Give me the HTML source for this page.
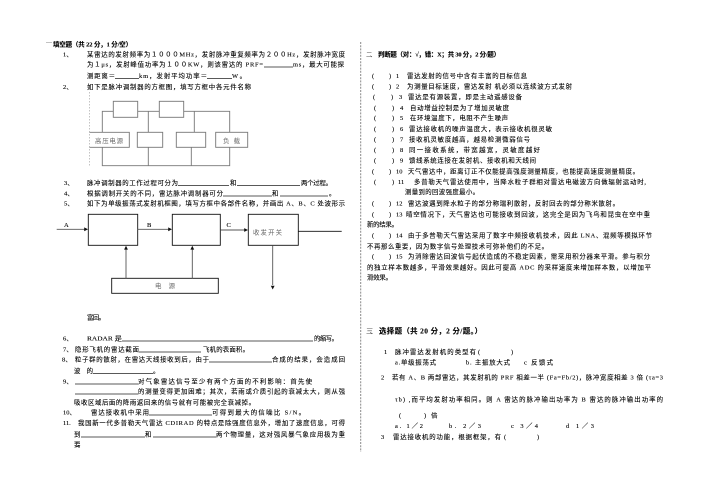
<!DOCTYPE html>
<html lang="zh"><head><meta charset="utf-8"><style>
html,body{margin:0;padding:0;background:#fff;width:702px;height:496px;overflow:hidden}
svg{display:block;position:absolute;left:0;top:0}
text{font-family:"Liberation Serif","Noto Sans CJK SC",sans-serif;font-size:6.4px;fill:#000;stroke:#000;stroke-width:.12;white-space:pre}
.b{font-weight:bold}
.g{fill:#666;stroke:none}
.l{fill:#555;stroke:none}
.u{stroke:#222;stroke-width:.8}
.d{stroke:#777;stroke-width:.9;fill:none}
.k{stroke:#111;stroke-width:.9;fill:none}
.h{stroke:#555;stroke-width:.9;fill:none}
</style></head><body>
<svg width="702" height="496" viewBox="0 0 702 496" xmlns="http://www.w3.org/2000/svg">
<!-- left column -->
<line x1="46" y1="42.5" x2="52" y2="42.5" stroke="#999" stroke-width=".6"/>
<text class="b" x="53" y="46.5" textLength="79">填空题（共 22 分，1 分/空）</text>
<text x="63" y="56.5">1、</text>
<text x="87" y="56.5" textLength="258">某雷达的发射频率为１０００MHz，发射脉冲重复频率为２００Hz，发射脉冲宽度</text>
<text x="87" y="66.5" textLength="176">为１μs，发射峰值功率为１００KW，则该雷达的 PRF=</text>
<line class="u" x1="264" y1="67" x2="293" y2="67"/>
<text x="293" y="66.5" textLength="51">ms，最大可能探</text>
<text x="87" y="78" textLength="28">测距离＝</text>
<line class="u" x1="115" y1="78.5" x2="139" y2="78.5"/>
<text x="139" y="78" textLength="68">km，发射平均功率＝</text>
<line class="u" x1="207" y1="78.5" x2="232" y2="78.5"/>
<text x="232" y="78" textLength="14">W。</text>
<text x="63" y="89">2、</text>
<text x="87" y="89" textLength="164">如下是脉冲调制器的方框图，填写方框中各元件名称</text>

<!-- modulator diagram -->
<line x1="89.5" y1="92" x2="89.5" y2="166" stroke="#aaa" stroke-width=".7" stroke-dasharray="1.5 1.5"/>
<rect class="d" x="113.3" y="101.3" width="24.4" height="16"/>
<rect class="d" x="159.3" y="101.3" width="24.4" height="16"/>
<path class="d" d="M102.3 132.3V111.3H113.3M137.7 111.3H159.3M183.7 111.3H229.7V132.3M148.3 111.3V132.3M194.3 111.3V132.3"/>
<path class="d" d="M89.5 132.3H129.3V147.3H89.5"/>
<rect class="d" x="137.3" y="132.3" width="25.4" height="15"/>
<rect class="d" x="176.3" y="132.3" width="29.4" height="15"/>
<rect class="d" x="215.7" y="132.3" width="32" height="15"/>
<path class="d" d="M102.3 147.3V165.7H229.7V147.3M148.3 147.3V165.7M191.3 147.3V165.7"/>
<text class="g" x="95" y="143" textLength="28">高压电源</text>
<text class="g" x="223" y="143" textLength="17">负载</text>

<text x="64" y="185">3、</text>
<text x="87" y="185" textLength="91">脉冲调制器的工作过程可分为</text>
<line class="u" x1="178" y1="185.5" x2="229" y2="185.5"/>
<text x="230" y="185" textLength="7">和</text>
<line class="u" x1="237" y1="185.5" x2="300" y2="185.5"/>
<text x="301" y="185" textLength="31">两个过程。</text>
<text x="64" y="195.5">4、</text>
<text x="87" y="195.5" textLength="136">根据调制开关的不同，雷达脉冲调制器可分</text>
<line class="u" x1="223" y1="196" x2="272" y2="196"/>
<text x="272" y="195.5" textLength="8">和</text>
<line class="u" x1="280" y1="196" x2="328" y2="196"/>
<text x="329" y="195.5">。</text>
<text x="64" y="205.5">5、</text>
<text x="87" y="205.5" textLength="258">如下为单级振荡式发射机框图，填写方框中各部件名称，并画出 A、B、C 处波形示</text>

<!-- transmitter diagram -->
<rect class="k" x="88.3" y="214.3" width="49.4" height="31"/>
<rect class="k" x="172.3" y="214.3" width="48" height="31"/>
<rect class="k" x="248.3" y="214.3" width="50" height="31"/>
<rect class="k" x="111.7" y="278.3" width="106.6" height="15"/>
<path class="h" d="M56.7 229.3H85M137.7 229.3H169M220.3 230H245M126 278.3V249M192.3 278.3V249M272.7 245.3V285"/>
<line class="k" x1="298.3" y1="231.3" x2="341.7" y2="231.3"/>
<path fill="#111" d="M88 229.3l-3.8-1.9v3.8zM172 229.3l-3.8-1.9v3.8zM248 230l-3.8-1.9v3.8zM126 245.8l-1.9 3.8h3.8zM192.3 245.8l-1.9 3.8h3.8zM272.7 289.5l-1.9-3.8h3.8z"/>
<text x="64" y="227" style="font-size:6.5px">A</text>
<text x="147" y="227" style="font-size:6.5px">B</text>
<text x="226.5" y="227" style="font-size:6.5px">C</text>
<text class="g" x="155" y="288" textLength="20">电　源</text>
<text class="g" x="253" y="234.5" textLength="29">收发开关</text>

<text x="87" y="319.5" textLength="18">富回。</text>
<text x="63" y="340.5">6、</text>
<text x="87" y="340.5" textLength="35" lengthAdjust="spacingAndGlyphs">RADAR 是</text>
<line class="u" x1="122" y1="341" x2="313" y2="341"/>
<text x="314" y="340.5" textLength="24">的缩写。</text>
<text x="63" y="351.5">7、</text>
<text x="75" y="351.5" textLength="64">隐形飞机的雷达截面</text>
<line class="u" x1="139" y1="352" x2="201" y2="352"/>
<text x="203" y="351.5" textLength="46">飞机的表面积。</text>
<text x="62" y="361.5">8、</text>
<text x="75" y="361.5" textLength="134">粒子群的散射，在雷达天线接收到后，由于</text>
<line class="u" x1="209" y1="362" x2="272" y2="362"/>
<text x="272" y="361.5" textLength="73">合成的结果，会造成回</text>
<text x="74" y="373" textLength="19">波的</text>
<line class="u" x1="93" y1="373.5" x2="153" y2="373.5"/>
<text x="153" y="373">。</text>
<text x="63" y="383.5">9、</text>
<line class="u" x1="75" y1="384" x2="138" y2="384"/>
<text x="138" y="383.5" textLength="174">对气象雷达信号至少有两个方面的不利影响：首先使</text>
<line class="u" x1="75" y1="394" x2="138" y2="394"/>
<text x="138" y="393.5" textLength="207">的测量变得更加困难；其次，若雨或介质引起的衰减太大，则从强</text>
<text x="74" y="404.5" textLength="181">吸收区域后面的降雨返回来的信号就有可能被完全衰减掉。</text>
<text x="63" y="414.5">10、</text>
<text x="91" y="414.5" textLength="58">雷达接收机中采用</text>
<line class="u" x1="149" y1="415" x2="212" y2="415"/>
<text x="212" y="414.5" textLength="93">可得到最大的信噪比 S/N。</text>
<text x="63" y="425">11.</text>
<text x="78" y="425" textLength="267">我国新一代多普勒天气雷达 CDIRAD 的特点是除强度信息外，增加了速度信息，可得</text>
<text x="74" y="436.5" textLength="7">到</text>
<line class="u" x1="81" y1="437" x2="145" y2="437"/>
<text x="145" y="436.5" textLength="7">和</text>
<line class="u" x1="153" y1="437" x2="216" y2="437"/>
<text x="216" y="436.5" textLength="129">两个物理量，这对强风暴气象应用极为重</text>
<text x="74" y="446.5" textLength="10">要。</text>

<!-- right column -->
<line x1="360.7" y1="42" x2="360.7" y2="452" stroke="#888" stroke-width="1" stroke-dasharray="2 1.2"/>
<text class="l" x="366" y="56.5" textLength="10">二、</text>
<text class="b" x="378" y="56.5" textLength="122">判断题（对：√，错：X；共 30 分，2 分/题）</text>

<text x="372" y="78">(</text><text x="389" y="78">)</text><text x="396" y="78">1</text>
<text x="407" y="78" textLength="120">雷达发射的信号中含有丰富的目标信息</text>
<text x="372" y="88.5">(</text><text x="389" y="88.5">)</text><text x="396" y="88.5">2</text>
<text x="407" y="88.5" textLength="165">为测量目标速度，雷达发射 机必须以连续波方式发射</text>
<text x="373" y="99">(</text><text x="391" y="99">)</text><text x="399" y="99">3</text>
<text x="408" y="99" textLength="114">雷达是有源装置，即是主动遥感设备</text>
<text x="374" y="110">(</text><text x="392" y="110">)</text><text x="400" y="110">4</text>
<text x="410" y="110" textLength="99">自动增益控制是为了增加灵敏度</text>
<text x="374" y="120">(</text><text x="392" y="120">)</text><text x="400" y="120">5</text>
<text x="410" y="120" textLength="98">在环境温度下，电阻不产生噪声</text>
<text x="374" y="131">(</text><text x="392" y="131">)</text><text x="400" y="131">6</text>
<text x="409" y="131" textLength="143">雷达接收机的噪声温度大，表示接收机很灵敏</text>
<text x="374" y="141.5">(</text><text x="392" y="141.5">)</text><text x="400" y="141.5">7</text>
<text x="409" y="141.5" textLength="121">接收机灵敏度越高，越易检测微弱信号</text>
<text x="374" y="152">(</text><text x="392" y="152">)</text><text x="400" y="152">8</text>
<text x="409" y="152" textLength="131">同一接收系统，带宽越宽，灵敏度越好</text>
<text x="374" y="162.5">(</text><text x="392" y="162.5">)</text><text x="400" y="162.5">9</text>
<text x="409" y="162.5" textLength="127">馈线系统连接在发射机、接收机和天线间</text>
<text x="372" y="173.5">(</text><text x="389" y="173.5">)</text><text x="396" y="173.5">10</text>
<text x="408" y="173.5" textLength="231">天气雷达中，距离订正不仅能提高强度测量精度，也能提高速度测量精度。</text>
<text x="374" y="184">(</text><text x="392" y="184">)</text><text x="398" y="184">11</text>
<text x="414" y="184" textLength="232">多普勒天气雷达使用中，当降水粒子群相对雷达电磁波方向做辐射运动时,</text>
<text x="405" y="194" textLength="74">测量到的回波强度最小。</text>
<text x="372" y="205.5">(</text><text x="389" y="205.5">)</text><text x="396" y="205.5">12</text>
<text x="408" y="205.5" textLength="211">雷达波遇到降水粒子的部分称瑞利散射，反射回去的部分称米散射。</text>
<text x="372" y="216.5">(</text><text x="389" y="216.5">)</text><text x="396" y="216.5">13</text>
<text x="406" y="216.5" textLength="244">晴空情况下，天气雷达也可能接收到回波，这完全是因为飞鸟和昆虫在空中重</text>
<text x="367" y="226.5" textLength="31">新的结果。</text>
<text x="372" y="237.5">(</text><text x="389" y="237.5">)</text><text x="396" y="237.5">14</text>
<text x="408" y="237.5" textLength="244">由于多普勒天气雷达采用了数字中频接收机技术，因此 LNA、混频等模拟环节</text>
<text x="367" y="248.5" textLength="181">不再那么重要，因为数字信号处理技术可弥补他们的不足。</text>
<text x="372" y="258.5">(</text><text x="389" y="258.5">)</text><text x="396" y="258.5">15</text>
<text x="408" y="258.5" textLength="242">为消除雷达回波信号起伏造成的不稳定因素，需采用积分器来平滑。参与积分</text>
<text x="367" y="269.5" textLength="284">的独立样本数越多，平滑效果越好。因此可提高 ADC 的采样速度来增加样本数，以增加平</text>
<text x="367" y="279.5" textLength="25">滑效果。</text>

<text class="l" x="366" y="333.5" textLength="11" style="font-size:7.4px">三、</text>
<text class="b" x="379" y="333.5" textLength="103" style="font-size:7.4px">选择题（共 20 分，2 分/题。）</text>

<text x="384" y="354">1</text>
<text x="395" y="354" textLength="81">脉冲雷达发射机的类型有</text>
<text x="478" y="354">(</text><text x="511" y="354">)</text>
<text x="395" y="364.5" textLength="41">a.单级振荡式</text>
<text x="466" y="364.5" textLength="44">b. 主振放大式</text>
<text x="524" y="364.5" textLength="29">c 反馈式</text>
<text x="381" y="379.5">2</text>
<text x="392" y="379.5" textLength="271">若有 A、B 两部雷达，其发射机的 PRF 相差一半 (Fa=Fb/2)，脉冲宽度相差 3 倍 (τa=3</text>
<text x="395" y="401.5" textLength="268">τb) ,而平均发射功率相同。则 A 雷达的脉冲输出功率为 B 雷达的脉冲输出功率的</text>
<text x="399" y="417.5">(</text><text x="424" y="417.5">)</text><text x="431" y="417.5">倍</text>
<text x="395" y="428" textLength="28">a. 1／2</text>
<text x="449" y="428" textLength="32">b. 2／3</text>
<text x="511" y="428" textLength="27">c 3／4</text>
<text x="566" y="428" textLength="28">d 1／3</text>
<text x="381" y="439">3</text>
<text x="393" y="439" textLength="108">雷达接收机的功能，根据框架，有</text>
<text x="504" y="439">(</text><text x="537" y="439">)</text>
</svg>
</body></html>
